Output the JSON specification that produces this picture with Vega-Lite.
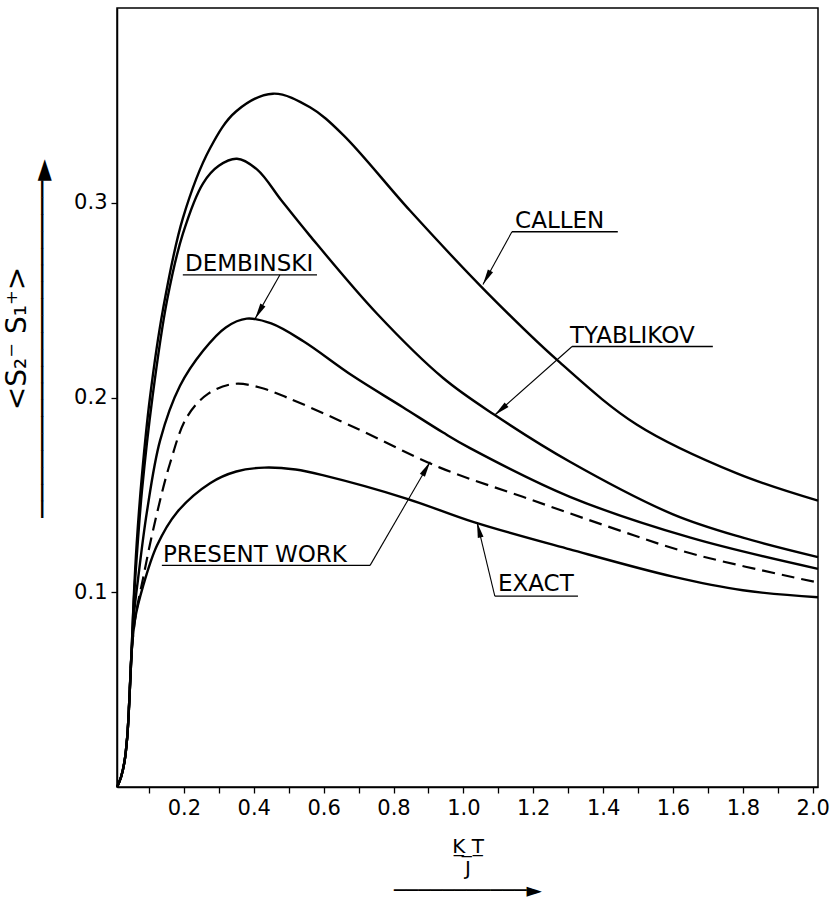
{
  "$schema": "https://vega.github.io/schema/vega-lite/v6.json",
  "width": 701,
  "height": 779,
  "autosize": {"type": "none"},
  "padding": {"left": 117, "top": 8, "right": 16, "bottom": 117},
  "background": "white",
  "config": {
    "view": {"stroke": "black", "strokeWidth": 1.5},
    "font": "DejaVu Sans",
    "axis": {
      "grid": false,
      "domainColor": "black",
      "domainWidth": 1.5,
      "tickColor": "black",
      "tickWidth": 1.3,
      "tickSize": 6,
      "labelColor": "black",
      "labelFont": "DejaVu Sans",
      "labelFontSize": 21,
      "titleColor": "black",
      "titleFont": "DejaVu Sans",
      "titleFontWeight": "normal"
    }
  },
  "datasets": {
    "curves": [
      {"model": "Callen", "x": 0.009, "y": 0.0},
      {"model": "Callen", "x": 0.02, "y": 0.005},
      {"model": "Callen", "x": 0.03, "y": 0.013},
      {"model": "Callen", "x": 0.038, "y": 0.026},
      {"model": "Callen", "x": 0.044, "y": 0.045},
      {"model": "Callen", "x": 0.05, "y": 0.068},
      {"model": "Callen", "x": 0.056, "y": 0.095},
      {"model": "Callen", "x": 0.065, "y": 0.125},
      {"model": "Callen", "x": 0.08, "y": 0.16},
      {"model": "Callen", "x": 0.103, "y": 0.2},
      {"model": "Callen", "x": 0.14, "y": 0.245},
      {"model": "Callen", "x": 0.197, "y": 0.292},
      {"model": "Callen", "x": 0.275, "y": 0.328},
      {"model": "Callen", "x": 0.35, "y": 0.347},
      {"model": "Callen", "x": 0.455, "y": 0.356},
      {"model": "Callen", "x": 0.561, "y": 0.349},
      {"model": "Callen", "x": 0.655, "y": 0.335},
      {"model": "Callen", "x": 0.847, "y": 0.296},
      {"model": "Callen", "x": 1.067, "y": 0.254},
      {"model": "Callen", "x": 1.276, "y": 0.218},
      {"model": "Callen", "x": 1.497, "y": 0.186},
      {"model": "Callen", "x": 1.783, "y": 0.161},
      {"model": "Callen", "x": 2.015, "y": 0.147},

      {"model": "Tyablikov", "x": 0.009, "y": 0.0},
      {"model": "Tyablikov", "x": 0.02, "y": 0.005},
      {"model": "Tyablikov", "x": 0.03, "y": 0.013},
      {"model": "Tyablikov", "x": 0.038, "y": 0.026},
      {"model": "Tyablikov", "x": 0.044, "y": 0.045},
      {"model": "Tyablikov", "x": 0.05, "y": 0.068},
      {"model": "Tyablikov", "x": 0.056, "y": 0.093},
      {"model": "Tyablikov", "x": 0.065, "y": 0.118},
      {"model": "Tyablikov", "x": 0.08, "y": 0.152},
      {"model": "Tyablikov", "x": 0.11, "y": 0.2},
      {"model": "Tyablikov", "x": 0.152, "y": 0.25},
      {"model": "Tyablikov", "x": 0.197, "y": 0.284},
      {"model": "Tyablikov", "x": 0.255, "y": 0.31},
      {"model": "Tyablikov", "x": 0.3, "y": 0.319},
      {"model": "Tyablikov", "x": 0.352, "y": 0.3226},
      {"model": "Tyablikov", "x": 0.41, "y": 0.317},
      {"model": "Tyablikov", "x": 0.48, "y": 0.301},
      {"model": "Tyablikov", "x": 0.561, "y": 0.283},
      {"model": "Tyablikov", "x": 0.753, "y": 0.243},
      {"model": "Tyablikov", "x": 0.942, "y": 0.21},
      {"model": "Tyablikov", "x": 1.09, "y": 0.191},
      {"model": "Tyablikov", "x": 1.305, "y": 0.167},
      {"model": "Tyablikov", "x": 1.6, "y": 0.14},
      {"model": "Tyablikov", "x": 1.8, "y": 0.128},
      {"model": "Tyablikov", "x": 2.015, "y": 0.118},

      {"model": "Dembinski", "x": 0.009, "y": 0.0},
      {"model": "Dembinski", "x": 0.02, "y": 0.005},
      {"model": "Dembinski", "x": 0.03, "y": 0.013},
      {"model": "Dembinski", "x": 0.038, "y": 0.026},
      {"model": "Dembinski", "x": 0.044, "y": 0.045},
      {"model": "Dembinski", "x": 0.05, "y": 0.068},
      {"model": "Dembinski", "x": 0.058, "y": 0.09},
      {"model": "Dembinski", "x": 0.069, "y": 0.107},
      {"model": "Dembinski", "x": 0.094, "y": 0.141},
      {"model": "Dembinski", "x": 0.132, "y": 0.178},
      {"model": "Dembinski", "x": 0.189, "y": 0.206},
      {"model": "Dembinski", "x": 0.255, "y": 0.224},
      {"model": "Dembinski", "x": 0.32, "y": 0.236},
      {"model": "Dembinski", "x": 0.38, "y": 0.2405},
      {"model": "Dembinski", "x": 0.45, "y": 0.238},
      {"model": "Dembinski", "x": 0.541, "y": 0.229},
      {"model": "Dembinski", "x": 0.684, "y": 0.211},
      {"model": "Dembinski", "x": 0.827, "y": 0.195},
      {"model": "Dembinski", "x": 0.942, "y": 0.182},
      {"model": "Dembinski", "x": 1.019, "y": 0.174},
      {"model": "Dembinski", "x": 1.305, "y": 0.149},
      {"model": "Dembinski", "x": 1.65, "y": 0.128},
      {"model": "Dembinski", "x": 2.015, "y": 0.112},

      {"model": "Present work", "x": 0.009, "y": 0.0},
      {"model": "Present work", "x": 0.02, "y": 0.005},
      {"model": "Present work", "x": 0.03, "y": 0.013},
      {"model": "Present work", "x": 0.038, "y": 0.026},
      {"model": "Present work", "x": 0.044, "y": 0.045},
      {"model": "Present work", "x": 0.05, "y": 0.068},
      {"model": "Present work", "x": 0.062, "y": 0.088},
      {"model": "Present work", "x": 0.083, "y": 0.107},
      {"model": "Present work", "x": 0.112, "y": 0.132},
      {"model": "Present work", "x": 0.16, "y": 0.166},
      {"model": "Present work", "x": 0.209, "y": 0.19},
      {"model": "Present work", "x": 0.27, "y": 0.202},
      {"model": "Present work", "x": 0.345, "y": 0.207},
      {"model": "Present work", "x": 0.42, "y": 0.205},
      {"model": "Present work", "x": 0.495, "y": 0.2},
      {"model": "Present work", "x": 0.684, "y": 0.185},
      {"model": "Present work", "x": 0.933, "y": 0.164},
      {"model": "Present work", "x": 1.17, "y": 0.149},
      {"model": "Present work", "x": 1.41, "y": 0.134},
      {"model": "Present work", "x": 1.65, "y": 0.12},
      {"model": "Present work", "x": 2.015, "y": 0.105},

      {"model": "Exact", "x": 0.009, "y": 0.0},
      {"model": "Exact", "x": 0.02, "y": 0.005},
      {"model": "Exact", "x": 0.03, "y": 0.013},
      {"model": "Exact", "x": 0.038, "y": 0.026},
      {"model": "Exact", "x": 0.044, "y": 0.045},
      {"model": "Exact", "x": 0.05, "y": 0.068},
      {"model": "Exact", "x": 0.06, "y": 0.086},
      {"model": "Exact", "x": 0.083, "y": 0.103},
      {"model": "Exact", "x": 0.123, "y": 0.124},
      {"model": "Exact", "x": 0.18, "y": 0.141},
      {"model": "Exact", "x": 0.275, "y": 0.156},
      {"model": "Exact", "x": 0.35, "y": 0.162},
      {"model": "Exact", "x": 0.43, "y": 0.164},
      {"model": "Exact", "x": 0.52, "y": 0.163},
      {"model": "Exact", "x": 0.6, "y": 0.16},
      {"model": "Exact", "x": 0.839, "y": 0.148},
      {"model": "Exact", "x": 1.03, "y": 0.136},
      {"model": "Exact", "x": 1.305, "y": 0.122},
      {"model": "Exact", "x": 1.6, "y": 0.108},
      {"model": "Exact", "x": 1.8, "y": 0.101},
      {"model": "Exact", "x": 2.015, "y": 0.0974}
    ],
    "labels": [
      {"label": "CALLEN", "x": 1.148, "y": 0.2872},
      {"label": "TYABLIKOV", "x": 1.305, "y": 0.2282},
      {"label": "DEMBINSKI", "x": 0.203, "y": 0.2651},
      {"label": "PRESENT  WORK", "x": 0.14, "y": 0.1154},
      {"label": "EXACT", "x": 1.099, "y": 0.1005}
    ],
    "underlines": [
      {"label": "CALLEN", "x": 1.139, "x2": 1.442, "y": 0.2851},
      {"label": "TYABLIKOV", "x": 1.311, "x2": 1.714, "y": 0.2262},
      {"label": "DEMBINSKI", "x": 0.197, "x2": 0.581, "y": 0.263},
      {"label": "PRESENT  WORK", "x": 0.137, "x2": 0.733, "y": 0.1138},
      {"label": "EXACT", "x": 1.09, "x2": 1.328, "y": 0.098}
    ],
    "leaders": [
      {"label": "CALLEN", "x": 1.139, "y": 0.2851, "x2": 1.056, "y2": 0.258},
      {"label": "TYABLIKOV", "x": 1.311, "y": 0.2262, "x2": 1.09, "y2": 0.191},
      {"label": "DEMBINSKI", "x": 0.475, "y": 0.263, "x2": 0.404, "y2": 0.2405},
      {"label": "PRESENT  WORK", "x": 0.733, "y": 0.1138, "x2": 0.905, "y2": 0.167},
      {"label": "EXACT", "x": 1.09, "y": 0.098, "x2": 1.039, "y2": 0.136}
    ],
    "tips": [
      {"label": "CALLEN", "x": 1.056, "y": 0.258},
      {"label": "TYABLIKOV", "x": 1.09, "y": 0.191},
      {"label": "DEMBINSKI", "x": 0.404, "y": 0.2405},
      {"label": "PRESENT  WORK", "x": 0.905, "y": 0.167},
      {"label": "EXACT", "x": 1.039, "y": 0.136}
    ]
  },
  "encoding": {
    "x": {
      "field": "x",
      "type": "quantitative",
      "scale": {"domain": [0.0086, 2.015], "nice": false, "zero": false},
      "axis": {
        "values": [0.1, 0.2, 0.3, 0.4, 0.5, 0.6, 0.7, 0.8, 0.9, 1.0, 1.1, 1.2, 1.3, 1.4, 1.5, 1.6, 1.7, 1.8, 1.9, 2.0],
        "labelExpr": "round(datum.value * 10) % 2 == 0 ? format(datum.value, '.1f') : ''",
        "labelPadding": 4,
        "labelFlush": false,
        "labelOverlap": false,
        "title": ["K̲ ̲T̲", "J", "───────────►"],
        "titleFontSize": 20,
        "titleLineHeight": 22,
        "titlePadding": 18
      }
    },
    "y": {
      "field": "y",
      "type": "quantitative",
      "scale": {"domain": [0, 0.4], "nice": false, "zero": false},
      "axis": {
        "values": [0.1, 0.2, 0.3],
        "format": ".1f",
        "labelPadding": 4,
        "title": ["<S₂⁻  S₁⁺>", "────────────────────►"],
        "titleFontSize": 28,
        "titleLineHeight": 26,
        "titlePadding": 16,
        "titleY": 330
      }
    }
  },
  "layer": [
    {
      "data": {"name": "curves"},
      "transform": [{"filter": "datum.model != 'Present work'"}],
      "mark": {"type": "line", "color": "black", "strokeWidth": 2.4, "interpolate": "catmull-rom"},
      "encoding": {"detail": {"field": "model"}}
    },
    {
      "data": {"name": "curves"},
      "transform": [{"filter": "datum.model == 'Present work'"}],
      "mark": {"type": "line", "color": "black", "strokeWidth": 2.2, "strokeDash": [13, 7], "interpolate": "catmull-rom"},
      "encoding": {"detail": {"field": "model"}}
    },
    {
      "data": {"name": "underlines"},
      "mark": {"type": "rule", "color": "black", "strokeWidth": 1.3},
      "encoding": {"x2": {"field": "x2"}}
    },
    {
      "data": {"name": "leaders"},
      "mark": {"type": "rule", "color": "black", "strokeWidth": 1.1},
      "encoding": {"x2": {"field": "x2"}, "y2": {"field": "y2"}}
    },
    {
      "data": {"name": "labels"},
      "mark": {"type": "text", "align": "left", "baseline": "alphabetic", "fontSize": 23, "color": "black", "font": "DejaVu Sans"},
      "encoding": {"text": {"field": "label"}}
    },
    {
      "data": {"name": "tips"},
      "transform": [{"filter": "datum.label == 'CALLEN'"}],
      "mark": {"type": "point", "shape": "M0,0L-0.45,2.4L0.45,2.4Z", "filled": true, "color": "black", "opacity": 1, "size": 170, "angle": 208.7}
    },
    {
      "data": {"name": "tips"},
      "transform": [{"filter": "datum.label == 'TYABLIKOV'"}],
      "mark": {"type": "point", "shape": "M0,0L-0.45,2.4L0.45,2.4Z", "filled": true, "color": "black", "opacity": 1, "size": 170, "angle": 228.6}
    },
    {
      "data": {"name": "tips"},
      "transform": [{"filter": "datum.label == 'DEMBINSKI'"}],
      "mark": {"type": "point", "shape": "M0,0L-0.45,2.4L0.45,2.4Z", "filled": true, "color": "black", "opacity": 1, "size": 170, "angle": 209.6}
    },
    {
      "data": {"name": "tips"},
      "transform": [{"filter": "datum.label == 'PRESENT  WORK'"}],
      "mark": {"type": "point", "shape": "M0,0L-0.45,2.4L0.45,2.4Z", "filled": true, "color": "black", "opacity": 1, "size": 170, "angle": 29.9}
    },
    {
      "data": {"name": "tips"},
      "transform": [{"filter": "datum.label == 'EXACT'"}],
      "mark": {"type": "point", "shape": "M0,0L-0.45,2.4L0.45,2.4Z", "filled": true, "color": "black", "opacity": 1, "size": 170, "angle": 346.5}
    }
  ]
}
